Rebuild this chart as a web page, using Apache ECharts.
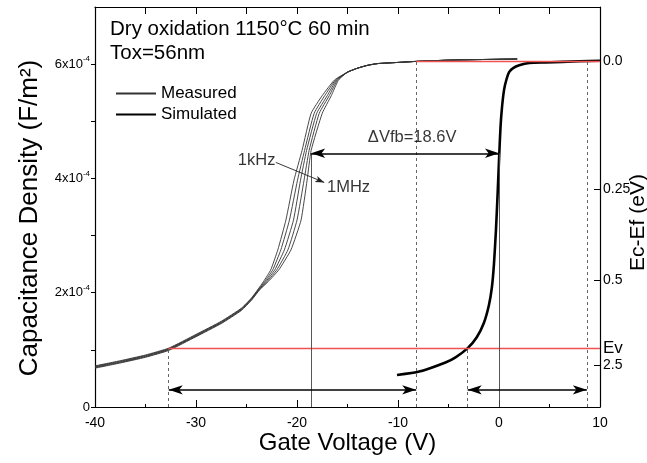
<!DOCTYPE html>
<html><head><meta charset="utf-8">
<script src="https://cdn.jsdelivr.net/npm/echarts@6/dist/echarts.min.js"></script>
<style>html,body{margin:0;padding:0;background:#fff}#c{width:647px;height:463px}</style>
</head><body><div id="c"></div>
<script>
const FONT = "'Liberation Sans', Arial, sans-serif";

// ---- data (capacitance in units of 1e-4 F/m^2, voltage in V) ----
const measured1kHz = [[-40,0.72],[-37.5,0.81],[-35,0.91],[-32.7,1.03],[-30,1.27],[-27.5,1.50],[-25.5,1.73],[-24.5,1.91],[-23.9,2.05],[-23.3,2.2],[-22.6,2.4],[-21.9,2.75],[-21.1,3.27],[-20.3,3.97],[-19.5,4.49],[-18.6,5.14],[-17.5,5.45],[-16.3,5.72],[-15,5.86],[-14,5.93],[-13,5.98],[-12,6.01],[-10,6.03],[-8,6.05],[-5,6.07],[-2,6.08],[1.8,6.09]];
const measured10kHz = [[-40,0.71],[-37.5,0.80],[-35,0.90],[-32.7,1.02],[-30,1.26],[-27.5,1.49],[-25.5,1.72],[-24.5,1.90],[-23.85,2.05],[-23.18,2.2],[-22.4,2.4],[-21.6,2.75],[-20.75,3.27],[-19.95,3.97],[-19.25,4.49],[-18.3,5.14],[-17.25,5.45],[-16.2,5.72],[-15,5.86],[-14,5.93],[-13,5.98],[-12,6.01],[-10,6.03],[-8,6.05],[-5,6.07],[-2,6.08],[1.8,6.09]];
const measured100kHz = [[-40,0.70],[-37.5,0.79],[-35,0.89],[-32.7,1.01],[-30,1.25],[-27.5,1.48],[-25.5,1.71],[-24.5,1.89],[-23.8,2.05],[-23.06,2.2],[-22.2,2.4],[-21.25,2.75],[-20.35,3.27],[-19.65,3.97],[-19.05,4.49],[-18.05,5.14],[-17.0,5.45],[-16.1,5.72],[-15,5.86],[-14,5.93],[-13,5.98],[-12,6.01],[-10,6.03],[-8,6.05],[-5,6.07],[-2,6.08],[1.8,6.09]];
const measured500kHz = [[-40,0.69],[-37.5,0.78],[-35,0.88],[-32.7,1.00],[-30,1.24],[-27.5,1.47],[-25.5,1.70],[-24.5,1.88],[-23.75,2.05],[-22.94,2.2],[-22.0,2.4],[-20.9,2.75],[-20.0,3.27],[-19.3,3.97],[-18.8,4.49],[-17.8,5.14],[-16.8,5.45],[-16.0,5.72],[-15,5.86],[-14,5.93],[-13,5.98],[-12,6.01],[-10,6.03],[-8,6.05],[-5,6.07],[-2,6.08],[1.8,6.09]];
const measured1MHz = [[-40,0.68],[-37.5,0.77],[-35,0.87],[-32.7,0.99],[-30,1.23],[-27.5,1.46],[-25.5,1.69],[-24.5,1.87],[-23.7,2.05],[-22.82,2.2],[-21.8,2.4],[-20.6,2.75],[-19.6,3.27],[-19.0,3.97],[-18.6,4.49],[-17.5,5.14],[-16.6,5.45],[-15.9,5.72],[-15,5.86],[-14,5.93],[-13,5.98],[-12,6.01],[-10,6.03],[-8,6.05],[-5,6.07],[-2,6.08],[1.8,6.09]];
const simulated = [[-10.1,0.56],[-7.9,0.62],[-5.3,0.78],[-4.3,0.87],[-3.1,1.03],[-2.2,1.22],[-1.5,1.47],[-1.0,1.78],[-0.7,2.1],[-0.5,2.5],[-0.3,3.1],[-0.12,3.8],[0.02,4.4],[0.15,4.9],[0.3,5.25],[0.5,5.55],[0.75,5.74],[1.0,5.86],[1.4,5.93],[2.0,5.98],[3.0,6.02],[4.6,6.03],[7.9,6.05],[10,6.06]];

const xTickLabels = ['-40','-30','-20','-10','0','10'];
const rightTickValues = [6.06, 3.81, 2.22, 0.73];
const rightTickLabels = ['0.0', '0.25', '0.5', '2.5'];
const evLevel = 1.03;          // Ev line
const ecLevel = 6.05;          // Ec line (top)
const dashedX = [-32.7, -8.2, -3.1, 8.7];
const dashedTop = [1.03, 6.05, 1.03, 6.05];
const vfbX = [-18.6, 0];
const vfbLevel = 4.44;
const bottomArrowLevel = 0.30;
const bottomArrows = [[-32.7, -8.2], [-3.1, 8.7]];
const freqArrow = [[-22.1, 4.28], [-17.3, 3.93]];
const textLabels = [[-24.0, 4.31, '1kHz'], [-14.9, 3.84, '1MHz'], [-8.6, 4.72, '\u0394Vfb=18.6V']];

const measuredSets = [measured1kHz, measured10kHz, measured100kHz, measured500kHz, measured1MHz];

const chart = echarts.init(document.getElementById('c'), null, {renderer: 'canvas'});

const red = '#ef5252';
const markData = [];
markData.push([{coord: [dashedX[0], evLevel], lineStyle: {color: red, width: 1.3, type: 'solid'}}, {coord: [10, evLevel]}]);
markData.push([{coord: [dashedX[1], ecLevel], lineStyle: {color: red, width: 1.3, type: 'solid'}}, {coord: [10, ecLevel]}]);
dashedX.forEach((x, i) => {
  markData.push([{coord: [x, 0], lineStyle: {color: '#666', width: 1, type: [3, 3]}}, {coord: [x, dashedTop[i]]}]);
});
vfbX.forEach(x => {
  markData.push([{coord: [x, 0], lineStyle: {color: '#444', width: 0.9, type: 'solid'}}, {coord: [x, vfbLevel]}]);
});
const arrowEnd = (c) => ({coord: c, symbol: 'arrow', symbolSize: [7, 14]});
markData.push([Object.assign(arrowEnd([vfbX[0], vfbLevel]), {lineStyle: {color: '#000', width: 1.6, type: 'solid'}}), arrowEnd([vfbX[1], vfbLevel])]);
bottomArrows.forEach(a => {
  markData.push([Object.assign(arrowEnd([a[0], bottomArrowLevel]), {lineStyle: {color: '#000', width: 1.6, type: 'solid'}}), arrowEnd([a[1], bottomArrowLevel])]);
});
markData.push([{coord: freqArrow[0], symbol: 'none', lineStyle: {color: '#222', width: 0.9, type: 'solid'}}, {coord: freqArrow[1], symbol: 'arrow', symbolSize: [5, 9]}]);

const series = measuredSets.map(d => ({
  type: 'line', name: 'Measured', data: d, symbol: 'none', smooth: 0.15,
  lineStyle: {width: 0.9, color: '#333'}, itemStyle: {color: '#333'}, z: 3, silent: true
}));
series.push({
  type: 'line', name: 'Simulated', data: simulated, symbol: 'none', smooth: 0.2,
  lineStyle: {width: 2.6, color: '#000'}, itemStyle: {color: '#000'}, z: 4, silent: true
});
series.push({
  type: 'line', name: 'annot', data: [], symbol: 'none', silent: true,
  markLine: {silent: true, symbol: 'none', animation: false, label: {show: false}, data: markData}
});
series.push({
  type: 'scatter', name: 'labels', symbolSize: 0, silent: true, z: 6,
  data: textLabels,
  label: {show: true, position: 'inside', formatter: p => p.data[2], color: '#000', fontFamily: FONT, fontSize: 16.5}
});

chart.setOption({
  animation: false,
  backgroundColor: '#fff',
  title: {
    text: 'Dry oxidation 1150\u00b0C 60 min\nTox=56nm',
    left: 105, top: 12,
    textStyle: {fontFamily: FONT, fontSize: 20.5, fontWeight: 'normal', color: '#000', lineHeight: 24}
  },
  legend: {
    data: ['Measured', 'Simulated'], orient: 'vertical', left: 110, top: 80,
    itemWidth: 40, itemHeight: 14, itemGap: 4,
    itemStyle: {opacity: 0},
    textStyle: {fontFamily: FONT, fontSize: 17, color: '#000'}
  },
  grid: {left: 95, right: 47, top: 7, bottom: 56, containLabel: false, outerBoundsMode: 'none'},
  xAxis: [{
    type: 'value', position: 'bottom', min: -40, max: 10, interval: 10,
    name: 'Gate Voltage (V)', nameLocation: 'middle', nameGap: 24, nameMoveOverlap: false,
    nameTextStyle: {fontFamily: FONT, fontSize: 24, color: '#000'},
    axisLine: {onZero: false, lineStyle: {color: '#000', width: 1.2}},
    axisTick: {inside: true, length: 7, lineStyle: {color: '#000'}},
    minorTick: {show: true, splitNumber: 2, length: 3, lineStyle: {color: '#000'}},
    axisLabel: {fontFamily: FONT, fontSize: 14, color: '#000', margin: 9, formatter: v => xTickLabels[Math.round((v + 40) / 10)] ?? ''},
    splitLine: {show: false}
  }, {
    type: 'value', position: 'top', min: -40, max: 10, interval: 5,
    axisLine: {onZero: false, lineStyle: {color: '#000', width: 1.2}},
    axisTick: {inside: true, length: 7, lineStyle: {color: '#000'}},
    axisLabel: {show: false}, splitLine: {show: false}
  }],
  yAxis: [{
    type: 'value', position: 'left', min: 0, max: 7, interval: 1,
    name: 'Capacitance Density (F/m\u00b2)', nameLocation: 'middle', nameGap: 52, nameRotate: 90, nameMoveOverlap: false,
    nameTextStyle: {fontFamily: FONT, fontSize: 26, color: '#000', padding: [0, 22, 0, 0]},
    axisLine: {onZero: false, lineStyle: {color: '#000', width: 1.2}},
    axisTick: {inside: false, length: 4, lineStyle: {color: '#000'}},
    axisLabel: {
      fontFamily: FONT, color: '#000', margin: 5, showMaxLabel: false,
      formatter: v => v === 0 ? '{b|0}' : (v % 2 === 0 && v < 7 ? '{b|' + v + 'x10}{s|-4}' : ''),
      rich: {
        b: {fontFamily: FONT, fontSize: 13, color: '#000', lineHeight: 18},
        s: {fontFamily: FONT, fontSize: 8, color: '#000', lineHeight: 9, verticalAlign: 'top'}
      }
    },
    splitLine: {show: false}
  }, {
    type: 'value', position: 'right', min: 0, max: 7,
    name: 'Ec-Ef (eV)', nameLocation: 'middle', nameGap: 28, nameRotate: 90, nameMoveOverlap: false,
    nameTextStyle: {fontFamily: FONT, fontSize: 21, color: '#000', padding: [0, 31, 0, 0]},
    axisLine: {onZero: false, lineStyle: {color: '#000', width: 1.2}},
    axisTick: {inside: true, length: 6, customValues: rightTickValues, lineStyle: {color: '#000'}},
    axisLabel: {
      customValues: rightTickValues.concat([evLevel]),
      margin: 3, fontFamily: FONT, fontSize: 14, color: '#000',
      formatter: v => {
        if (Math.abs(v - evLevel) < 1e-6) return '{ev|Ev}';
        const i = rightTickValues.findIndex(t => Math.abs(t - v) < 1e-6);
        return i >= 0 ? rightTickLabels[i] : '';
      },
      rich: {ev: {fontFamily: FONT, fontSize: 17, color: '#000'}}
    },
    splitLine: {show: false}
  }],
  series: series
});
</script></body></html>
